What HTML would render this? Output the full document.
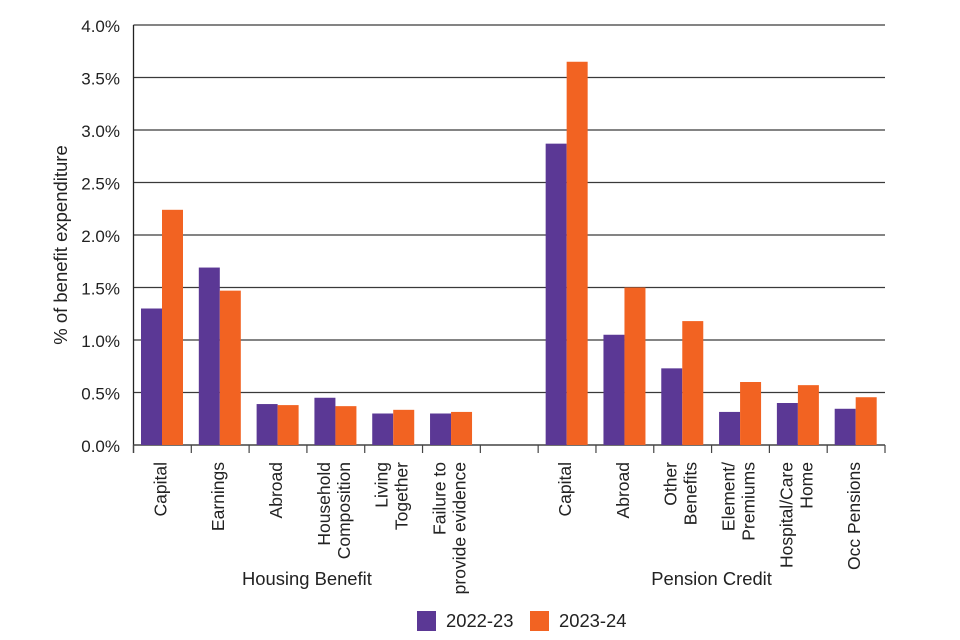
<!DOCTYPE html>
<html><head><meta charset="utf-8"><style>
html,body{margin:0;padding:0;background:#fff;width:960px;height:640px;overflow:hidden}
svg{display:block;font-family:"Liberation Sans",sans-serif;fill:#222}
</style></head><body>
<svg id="chart" width="960" height="640" viewBox="0 0 960 640" xmlns="http://www.w3.org/2000/svg"></svg>
<script>
const categories = [["Capital"],["Earnings"],["Abroad"],["Household","Composition"],["Living","Together"],["Failure to","provide evidence"],[],["Capital"],["Abroad"],["Other","Benefits"],["Element/","Premiums"],["Hospital/Care","Home"],["Occ Pensions"]];
const series2022 = [1.30,1.69,0.39,0.45,0.30,0.30,null,2.87,1.05,0.73,0.315,0.40,0.345];
const series2023 = [2.24,1.47,0.38,0.37,0.335,0.315,null,3.65,1.50,1.18,0.60,0.57,0.455];
const yTicks = [0,0.5,1.0,1.5,2.0,2.5,3.0,3.5,4.0];
const yTickLabels = ["0.0%","0.5%","1.0%","1.5%","2.0%","2.5%","3.0%","3.5%","4.0%"];
const groups = [["Housing Benefit",0,5],["Pension Credit",7,12]];

const svg = document.getElementById('chart');
const NS = 'http://www.w3.org/2000/svg';
const X0 = 133.5, X1 = 885, Y0 = 445, YTOP = 25, YMAX = 4.0;
const slotW = (X1 - X0) / categories.length;
const y = v => Y0 - (v / YMAX) * (Y0 - YTOP);
const xSlot = i => X0 + slotW * i;
function mk(tag, attrs, parent){const e=document.createElementNS(NS,tag);for(const k in attrs)e.setAttribute(k,attrs[k]);(parent||svg).appendChild(e);return e;}

yTicks.forEach((t,i)=>{
  const g = mk('line',{x1:X0,x2:X1,y1:y(t),y2:y(t),stroke:'#3a3a3a','stroke-width':1.2});
  
  
  const tx = mk('text',{x:120,y:y(t)+7,'text-anchor':'end','font-size':17});
  tx.textContent = yTickLabels[i];
  
  
});
const ax = mk('line',{x1:X0,x2:X0,y1:YTOP,y2:Y0+8,stroke:'#222','stroke-width':1.3});


const xa = mk('line',{x1:X0,x2:X1,y1:Y0,y2:Y0,stroke:'#555','stroke-width':1.5});



const yt = mk('text',{x:0,y:0,'text-anchor':'middle','font-size':18.5,transform:'translate(67,245) rotate(-90)'});
yt.textContent = '% of benefit expenditure';



for(let i=0;i<=categories.length;i++){
  const tk = mk('line',{x1:xSlot(i),x2:xSlot(i),y1:Y0,y2:Y0+8,stroke:'#444','stroke-width':1.2});
  
  
}

const bw = 21, off = 7.5;
categories.forEach((lines,i)=>{
  const xs = xSlot(i);
  if(series2022[i]!=null){
    const b1 = mk('rect',{x:xs+off,y:y(series2022[i]),width:bw,height:Y0-y(series2022[i]),fill:'#5b3895'});
    
    
    const b2 = mk('rect',{x:xs+off+bw,y:y(series2023[i]),width:bw,height:Y0-y(series2023[i]),fill:'#f26322'});
    
    
  }
  const c = xs + slotW/2;
  const n = lines.length;
  lines.forEach((ln,j)=>{
    const bx = c + 4 + (j - (n-1)/2) * 20;
    const t = mk('text',{x:0,y:0,'text-anchor':'end','font-size':17.5,transform:`translate(${bx},462) rotate(-90)`});
    t.textContent = ln;
    
    
  });
});

groups.forEach(g=>{
  const cx = (xSlot(g[1]) + xSlot(g[2]+1))/2;
  const t = mk('text',{x:cx,y:585,'text-anchor':'middle','font-size':18.4});
  t.textContent = g[0];
  
  
});

const l1 = mk('rect',{x:417,y:611,width:19,height:20,fill:'#5b3895'});


const lt1 = mk('text',{x:446,y:627,'font-size':18.4});
lt1.textContent='2022-23';


const l2 = mk('rect',{x:530,y:611,width:19,height:20,fill:'#f26322'});


const lt2 = mk('text',{x:559,y:627,'font-size':18.4});
lt2.textContent='2023-24';


</script>
</body></html>
